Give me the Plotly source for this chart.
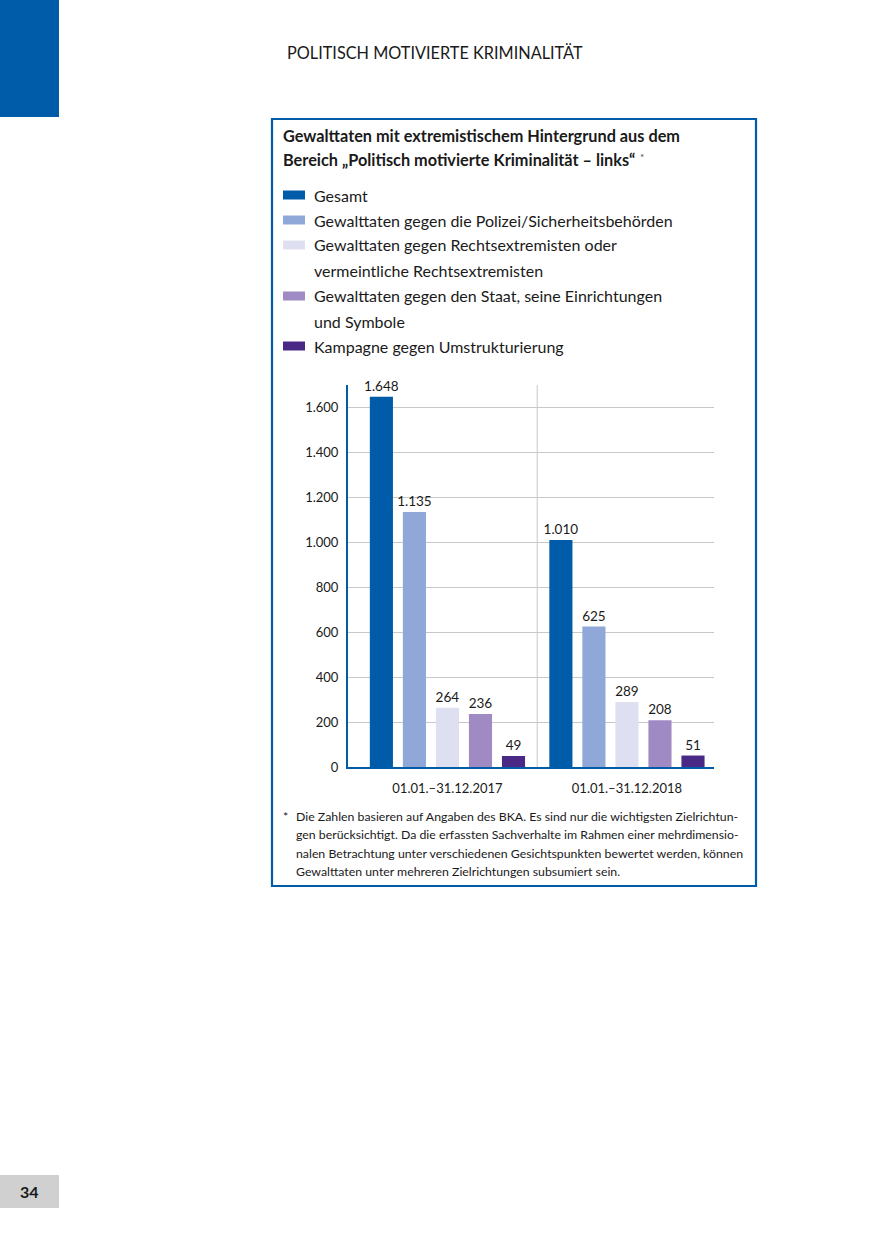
import plotly.graph_objects as go

# ---- data ----
categories = ["01.01.–31.12.2017", "01.01.–31.12.2018"]
series_names = [
    "Gesamt",
    "Gewalttaten gegen die Polizei/Sicherheitsbehörden",
    "Gewalttaten gegen Rechtsextremisten oder<br>vermeintliche Rechtsextremisten",
    "Gewalttaten gegen den Staat, seine Einrichtungen<br>und Symbole",
    "Kampagne gegen Umstrukturierung",
]
gesamt = [1648, 1010]
polizei = [1135, 625]
rechtsextremisten = [264, 289]
staat = [236, 208]
kampagne = [49, 51]
series_values = [gesamt, polizei, rechtsextremisten, staat, kampagne]
colors = ["#005ca9", "#8fa8d8", "#dee0f1", "#9f8ac3", "#4a2886"]
y_ticks = [0, 200, 400, 600, 800, 1000, 1200, 1400, 1600]

FONT = "Lato"
TXT = "#1a1a1a"
W, H = 875, 1241
PL, PR, PT, PB = 348, 714, 385, 767  # plot area in px


def px(x):
    return (x - PL) / (PR - PL)


def py(y):
    return (PB - y) / (PB - PT)


fig = go.Figure()
for name, vals, col in zip(series_names, series_values, colors):
    fig.add_trace(go.Bar(
        x=categories, y=vals, name=name.replace("<br>", " "), marker=dict(color=col, line=dict(width=0)),
        texttemplate="%{y:,d}", textposition="outside", constraintext="none",
        textfont=dict(family=FONT, size=13.5, color=TXT), cliponaxis=False,
        showlegend=False,
    ))

shapes = []
annotations = []

# page decorations
shapes.append(dict(type="rect", xref="paper", yref="paper", x0=px(0), x1=px(59), y0=py(0), y1=py(117),
                   fillcolor="#005ca9", line=dict(width=0), layer="below"))
shapes.append(dict(type="rect", xref="paper", yref="paper", x0=px(0), x1=px(59), y0=py(1175), y1=py(1208),
                   fillcolor="#d0d0d0", line=dict(width=0), layer="below"))
annotations.append(dict(xref="paper", yref="paper", x=px(29), y=py(1191), text="<b>34</b>", showarrow=False,
                        font=dict(family=FONT, size=16, color=TXT), xanchor="center", yanchor="middle"))
annotations.append(dict(xref="paper", yref="paper", x=px(435), y=py(52), text="POLITISCH MOTIVIERTE KRIMINALITÄT",
                        showarrow=False, font=dict(family=FONT, size=16.3, color=TXT), xanchor="center", yanchor="middle"))

# box border
shapes.append(dict(type="rect", xref="paper", yref="paper", x0=px(272), x1=px(756), y0=py(119), y1=py(886),
                   fillcolor="rgba(0,0,0,0)", line=dict(color="#005ca9", width=2.2), layer="below"))

# title
annotations.append(dict(xref="paper", yref="paper", x=px(281), y=py(135),
                        text="<b>Gewalttaten mit extremistischem Hintergrund aus dem</b>",
                        showarrow=False, font=dict(family=FONT, size=16.3, color=TXT), xanchor="left", yanchor="middle"))
annotations.append(dict(xref="paper", yref="paper", x=px(281), y=py(160),
                        text="<b>Bereich „Politisch motivierte Kriminalität – links“</b>",
                        showarrow=False, font=dict(family=FONT, size=16.3, color=TXT), xanchor="left", yanchor="middle"))
annotations.append(dict(xref="paper", yref="paper", x=px(638), y=py(157), text="*",
                        showarrow=False, font=dict(family=FONT, size=10, color="#444"), xanchor="left", yanchor="middle"))

# legend (manual)
legend_rows = [195, 220, 245, 296, 346]
for name, col, ry in zip(series_names, colors, legend_rows):
    shapes.append(dict(type="rect", xref="paper", yref="paper", x0=px(283), x1=px(305), y0=py(ry - 4.5), y1=py(ry + 4.5),
                       fillcolor=col, line=dict(width=0)))
    for j, part in enumerate(name.split("<br>")):
        annotations.append(dict(xref="paper", yref="paper", x=px(312), y=py(ry + 25.3 * j), text=part, showarrow=False,
                                font=dict(family=FONT, size=16, color=TXT), xanchor="left", yanchor="middle"))

# separator line between the groups
shapes.append(dict(type="line", xref="x", yref="paper", x0=0.5, x1=0.5, y0=0, y1=1,
                   line=dict(color="#c8c8c8", width=1), layer="below"))

# footnote
foot_lines = [
    "Die Zahlen basieren auf Angaben des BKA. Es sind nur die wichtigsten Zielrichtun-",
    "gen berücksichtigt. Da die erfassten Sachverhalte im Rahmen einer mehrdimensio-",
    "nalen Betrachtung unter verschiedenen Gesichtspunkten bewertet werden, können",
    "Gewalttaten unter mehreren Zielrichtungen subsumiert sein.",
]
annotations.append(dict(xref="paper", yref="paper", x=px(281), y=py(816), text="*", showarrow=False,
                        font=dict(family=FONT, size=12.3, color=TXT), xanchor="left", yanchor="middle"))
for i, line in enumerate(foot_lines):
    annotations.append(dict(xref="paper", yref="paper", x=px(294), y=py(816 + i * 18.5), text=line, showarrow=False,
                            font=dict(family=FONT, size=12.3, color=TXT), xanchor="left", yanchor="middle"))

fig.update_layout(
    width=W, height=H,
    margin=dict(l=PL, r=W - PR, t=PT, b=H - PB, pad=0),
    paper_bgcolor="white", plot_bgcolor="white",
    barmode="group", bargap=0.08, bargroupgap=0.3,
    separators=",.",
    font=dict(family=FONT, size=13, color=TXT),
    shapes=shapes, annotations=annotations,
    showlegend=False,
)
fig.update_xaxes(
    type="category", range=[-0.554, 1.485], showgrid=False, ticks="",
    showline=True, linecolor="#005ca9", linewidth=2,
    tickfont=dict(family=FONT, size=13, color=TXT), ticklabelstandoff=8,
)
fig.update_yaxes(
    range=[0, 1700], tickvals=y_ticks, tickformat=",d", showgrid=True, gridcolor="#c8c8c8", gridwidth=1,
    zeroline=False, showline=True, linecolor="#005ca9", linewidth=2, ticks="",
    tickfont=dict(family=FONT, size=13, color=TXT), ticklabelstandoff=5,
)

fig.write_html("out.html", config={"displayModeBar": False},
               post_script="document.body.style.margin='0';document.body.style.padding='0';")
